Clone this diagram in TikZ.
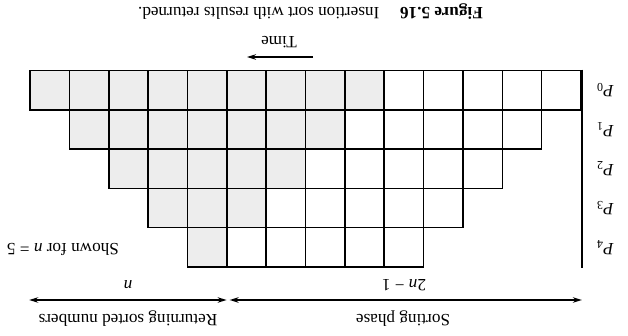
\documentclass[tikz,border=0pt]{standalone}
\usepackage{fontspec}
\setmainfont{Liberation Serif}
\usetikzlibrary{arrows.meta}
\definecolor{cellgrey}{gray}{0.93}
\tikzset{
  cell/.style={draw,line width=1.6pt,minimum width=39.36pt,minimum height=39.3pt,inner sep=0pt},
  uptext/.style={rotate=180,font=\fontsize{17.2}{20}\selectfont,inner sep=0pt},
  dimarrow/.style={line width=1.5pt,{Stealth[length=9pt,width=5.5pt]}-{Stealth[length=9pt,width=5.5pt]}},
  timearrow/.style={line width=1.5pt,-{Stealth[length=9pt,width=5.5pt]}}
}

\begin{document}
\begin{tikzpicture}[x=1pt,y=-1pt]
\useasboundingbox (0,0) rectangle (628,336);

% cells: grey part first, then the white part of each row
\foreach \r in {0,...,4} {
  \pgfmathtruncatemacro{\first}{\r+1}
  \pgfmathtruncatemacro{\grey}{9-\r}
  \pgfmathtruncatemacro{\white}{10-\r}
  \pgfmathtruncatemacro{\last}{14-\r}
  \foreach \c in {\first,...,\grey}
    \node[cell,fill=cellgrey] (c\r-\c) at ({30+(\c-0.5)*39.36},{70.5+(\r+0.5)*39.3}) {};
  \foreach \c in {\white,...,\last}
    \node[cell] (c\r-\c) at ({30+(\c-0.5)*39.36},{70.5+(\r+0.5)*39.3}) {};
  \node[uptext] (p\r) at ({605},{70.5+(\r+0.5)*39.3}) {\textit{P}\textsubscript{\r}};
}
\draw[line width=1.6pt] (c0-14.north east) -- (c0-14.north east |- c4-10.south);

\node[uptext] (shown) at (63,249) {Shown for \textit{n} = 5};

% time
\coordinate (tstart) at (313,57);
\coordinate (tend) at (247,57);
\draw[timearrow] (tstart) -- (tend);
\node[uptext] (time) at (279,42) {Time};

% phases
\coordinate (aleft) at (c0-1.west |- 0,300);
\coordinate (amid1) at ([xshift=-1pt]c4-5.east |- 0,300);
\coordinate (amid2) at ([xshift=2pt]c4-5.east |- 0,300);
\coordinate (aright) at (c0-14.east |- 0,300);
\draw[dimarrow] (aleft) -- (amid1);
\draw[dimarrow] (amid2) -- (aright);
\node[uptext] (n) at (128,285) {\textit{n}};
\node[uptext] (twon) at (404,285) {2\textit{n} − 1};
\node[uptext] (ret) at (128,319) {Returning sorted numbers};
\node[uptext] (sort) at (403,319) {Sorting phase};

% caption
\node[uptext,anchor=west] (fig) at (483,12) {\textbf{Figure 5.16}\hspace{1.2em}Insertion sort with results returned.};
\end{tikzpicture}
\end{document}
